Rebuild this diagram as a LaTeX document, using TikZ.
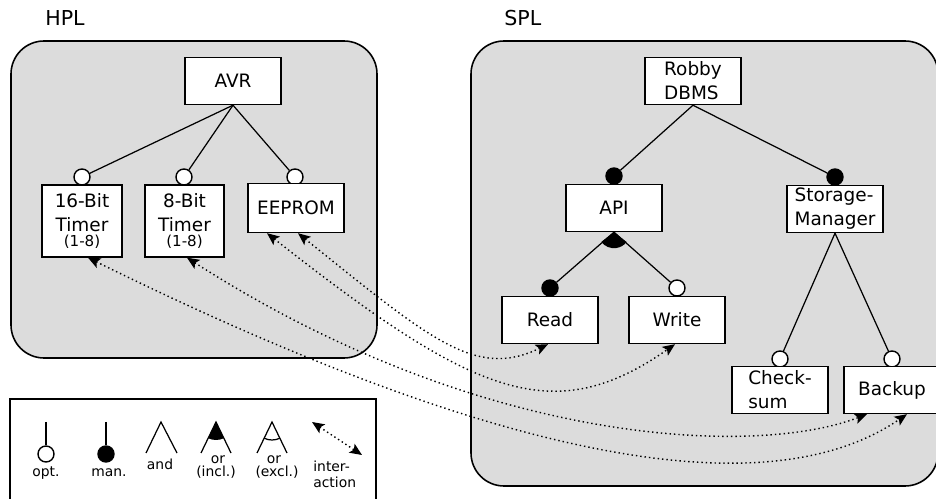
\documentclass[tikz,border=0pt]{standalone}
\usepackage{fontspec}
\setmainfont{DejaVu Sans}
\usetikzlibrary{arrows.meta}
\definecolor{panelgray}{RGB}{220,220,220}
\newcommand{\featfont}{\fontsize{10.5}{13.6}\selectfont}
\newcommand{\legfont}{\fontsize{7.9}{9.5}\selectfont}
\newcommand{\cardfont}{\fontsize{8.6}{9}\selectfont}
\newcommand{\plfont}{\fontsize{11.7}{14}\selectfont}
\tikzset{feat/.style = {draw, fill=white, line width=0.8pt, minimum width=1.92cm,
                        minimum height=0.94cm, inner sep=1pt, font=\featfont}}
\tikzset{optc/.style = {draw, fill=white, circle, line width=0.8pt, inner sep=0, minimum size=0.32cm}}
\tikzset{manc/.style = {optc, fill=black}}
\tikzset{branch/.style = {line width=0.7pt}}
\tikzset{panel/.style = {draw, fill=panelgray, line width=0.9pt, rounded corners=0.66cm}}
\tikzset{inter/.style = {line width=0.8pt, dash pattern=on 0.8pt off 1.7pt,
                         {Stealth[length=7pt,width=6pt,inset=1.5pt]}-{Stealth[length=7pt,width=6pt,inset=1.5pt]}}}
\tikzset{lbl/.style = {font=\legfont, inner sep=0, anchor=base}}

\begin{document}
\begin{tikzpicture}[x=0.02cm, y=-0.02cm]
    \useasboundingbox (0,0) rectangle (936,499);
    \draw [panel] (11,41) rectangle (377,358);
    \draw [panel] (471,41) rectangle (938,486);
    \draw [line width=0.9pt] (10,399) rectangle (376,520);
    \node [anchor=base west, inner sep=0, font=\plfont] (hpl) at (45,26) {HPL};
    \node [anchor=base west, inner sep=0, font=\plfont] (spl) at (504,26) {SPL};

    \node [feat] (avr) at (233,81) {AVR};
    \node [optc] (c16) at (82,177) {};
    \node [optc] (c8) at (184,177) {};
    \node [optc] (cee) at (295,177) {};
    \node [feat, align=center, minimum width=1.6cm, minimum height=1.44cm] (t16) at (82,221) {16-Bit\\Timer\\[-4.6pt]{\cardfont (1-8)}};
    \node [feat, align=center, minimum width=1.58cm, minimum height=1.44cm] (t8) at (184.5,221) {8-Bit\\Timer\\[-4.6pt]{\cardfont (1-8)}};
    \node [feat, minimum height=0.98cm] (eeprom) at (296,208) {EEPROM};
    \draw [branch] (avr.south) -- (c16);
    \draw [branch] (avr.south) -- (c8);
    \draw [branch] (avr.south) -- (cee);

    \node [feat, align=left] (robby) at (693,81) {Robby\\DBMS};
    \node [manc] (capi) at (614,176) {};
    \node [feat] (api) at (614,208) {API};
    \node [manc] (cstor) at (835,177) {};
    \node [feat, align=left] (stor) at (835,209) {Storage-\\Manager};
    \node [manc] (cread) at (550,288) {};
    \node [feat] (read) at (550,320) {Read};
    \node [optc] (cwrite) at (677,288) {};
    \node [feat] (write) at (677,320) {Write};
    \node [optc] (ccheck) at (780,359) {};
    \node [feat, align=left] (check) at (780,390) {Check-\\sum};
    \node [optc] (cback) at (892,359) {};
    \node [feat] (back) at (892,390) {Backup};
    \draw [branch] (robby.south) -- (capi);
    \draw [branch] (robby.south) -- (cstor);
    \draw [branch] (api.south) -- (cread);
    \draw [branch] (api.south) -- (cwrite);
    \fill (api.south) -- +(142.6:16) arc [start angle=142.6, end angle=37.9, radius=16] -- cycle;
    \draw [branch] (stor.south) -- (ccheck);
    \draw [branch] (stor.south) -- (cback);

    \draw [inter] ([xshift=0.12cm]t16.south) .. controls +(493,243) and +(-110,75) .. ([xshift=0.3cm]back.south);
    \draw [inter] ([xshift=0.05cm]t8.south) .. controls +(294,189) and +(-112,43) .. ([xshift=-0.5cm]back.south);
    \draw [inter] ([xshift=0.04cm]eeprom.south) .. controls +(133,107) and +(-72,35) .. ([xshift=-0.04cm]read.south);
    \draw [inter] ([xshift=-0.58cm]eeprom.south) .. controls +(205,161) and +(-123,86) .. ([xshift=-0.04cm]write.south);

    \node [optc] (lopt) at (46,454) {};
    \draw [branch] (46,422) -- (lopt);
    \node [lbl] (lopttxt) at (46,477) {opt.};
    \node [manc] (lman) at (106,454) {};
    \draw [branch] (106,422) -- (lman);
    \node [lbl] (lmantxt) at (109,477) {man.};
    \draw [branch] (146,453) -- (161,422) -- (177,453);
    \node [lbl] (landtxt) at (160,470) {and};
    \fill (216,422) -- +(64.2:18) arc [start angle=64.2, end angle=115.8, radius=18] -- cycle;
    \draw [branch] (201,453) -- (216,422) -- (231,453);
    \node [lbl] (lortxt) at (218,463) {or};
    \node [lbl] (lincl) at (216,477) {(incl.)};
    \draw [branch] (272,422) +(64.2:18) arc [start angle=64.2, end angle=115.8, radius=18];
    \draw [branch] (257,453) -- (272,422) -- (287,453);
    \node [lbl] (lortxt2) at (274,463) {or};
    \node [lbl] (lexcl) at (277,477) {(excl.)};
    \coordinate (lia) at (312,422);
    \coordinate (lib) at (362,455);
    \draw [inter] (lia) -- (lib);
    \node [lbl, anchor=base west] (lint) at (313,472) {inter-};
    \node [lbl, anchor=base west] (lact) at (313,487) {action};
  \end{tikzpicture}
\end{document}
